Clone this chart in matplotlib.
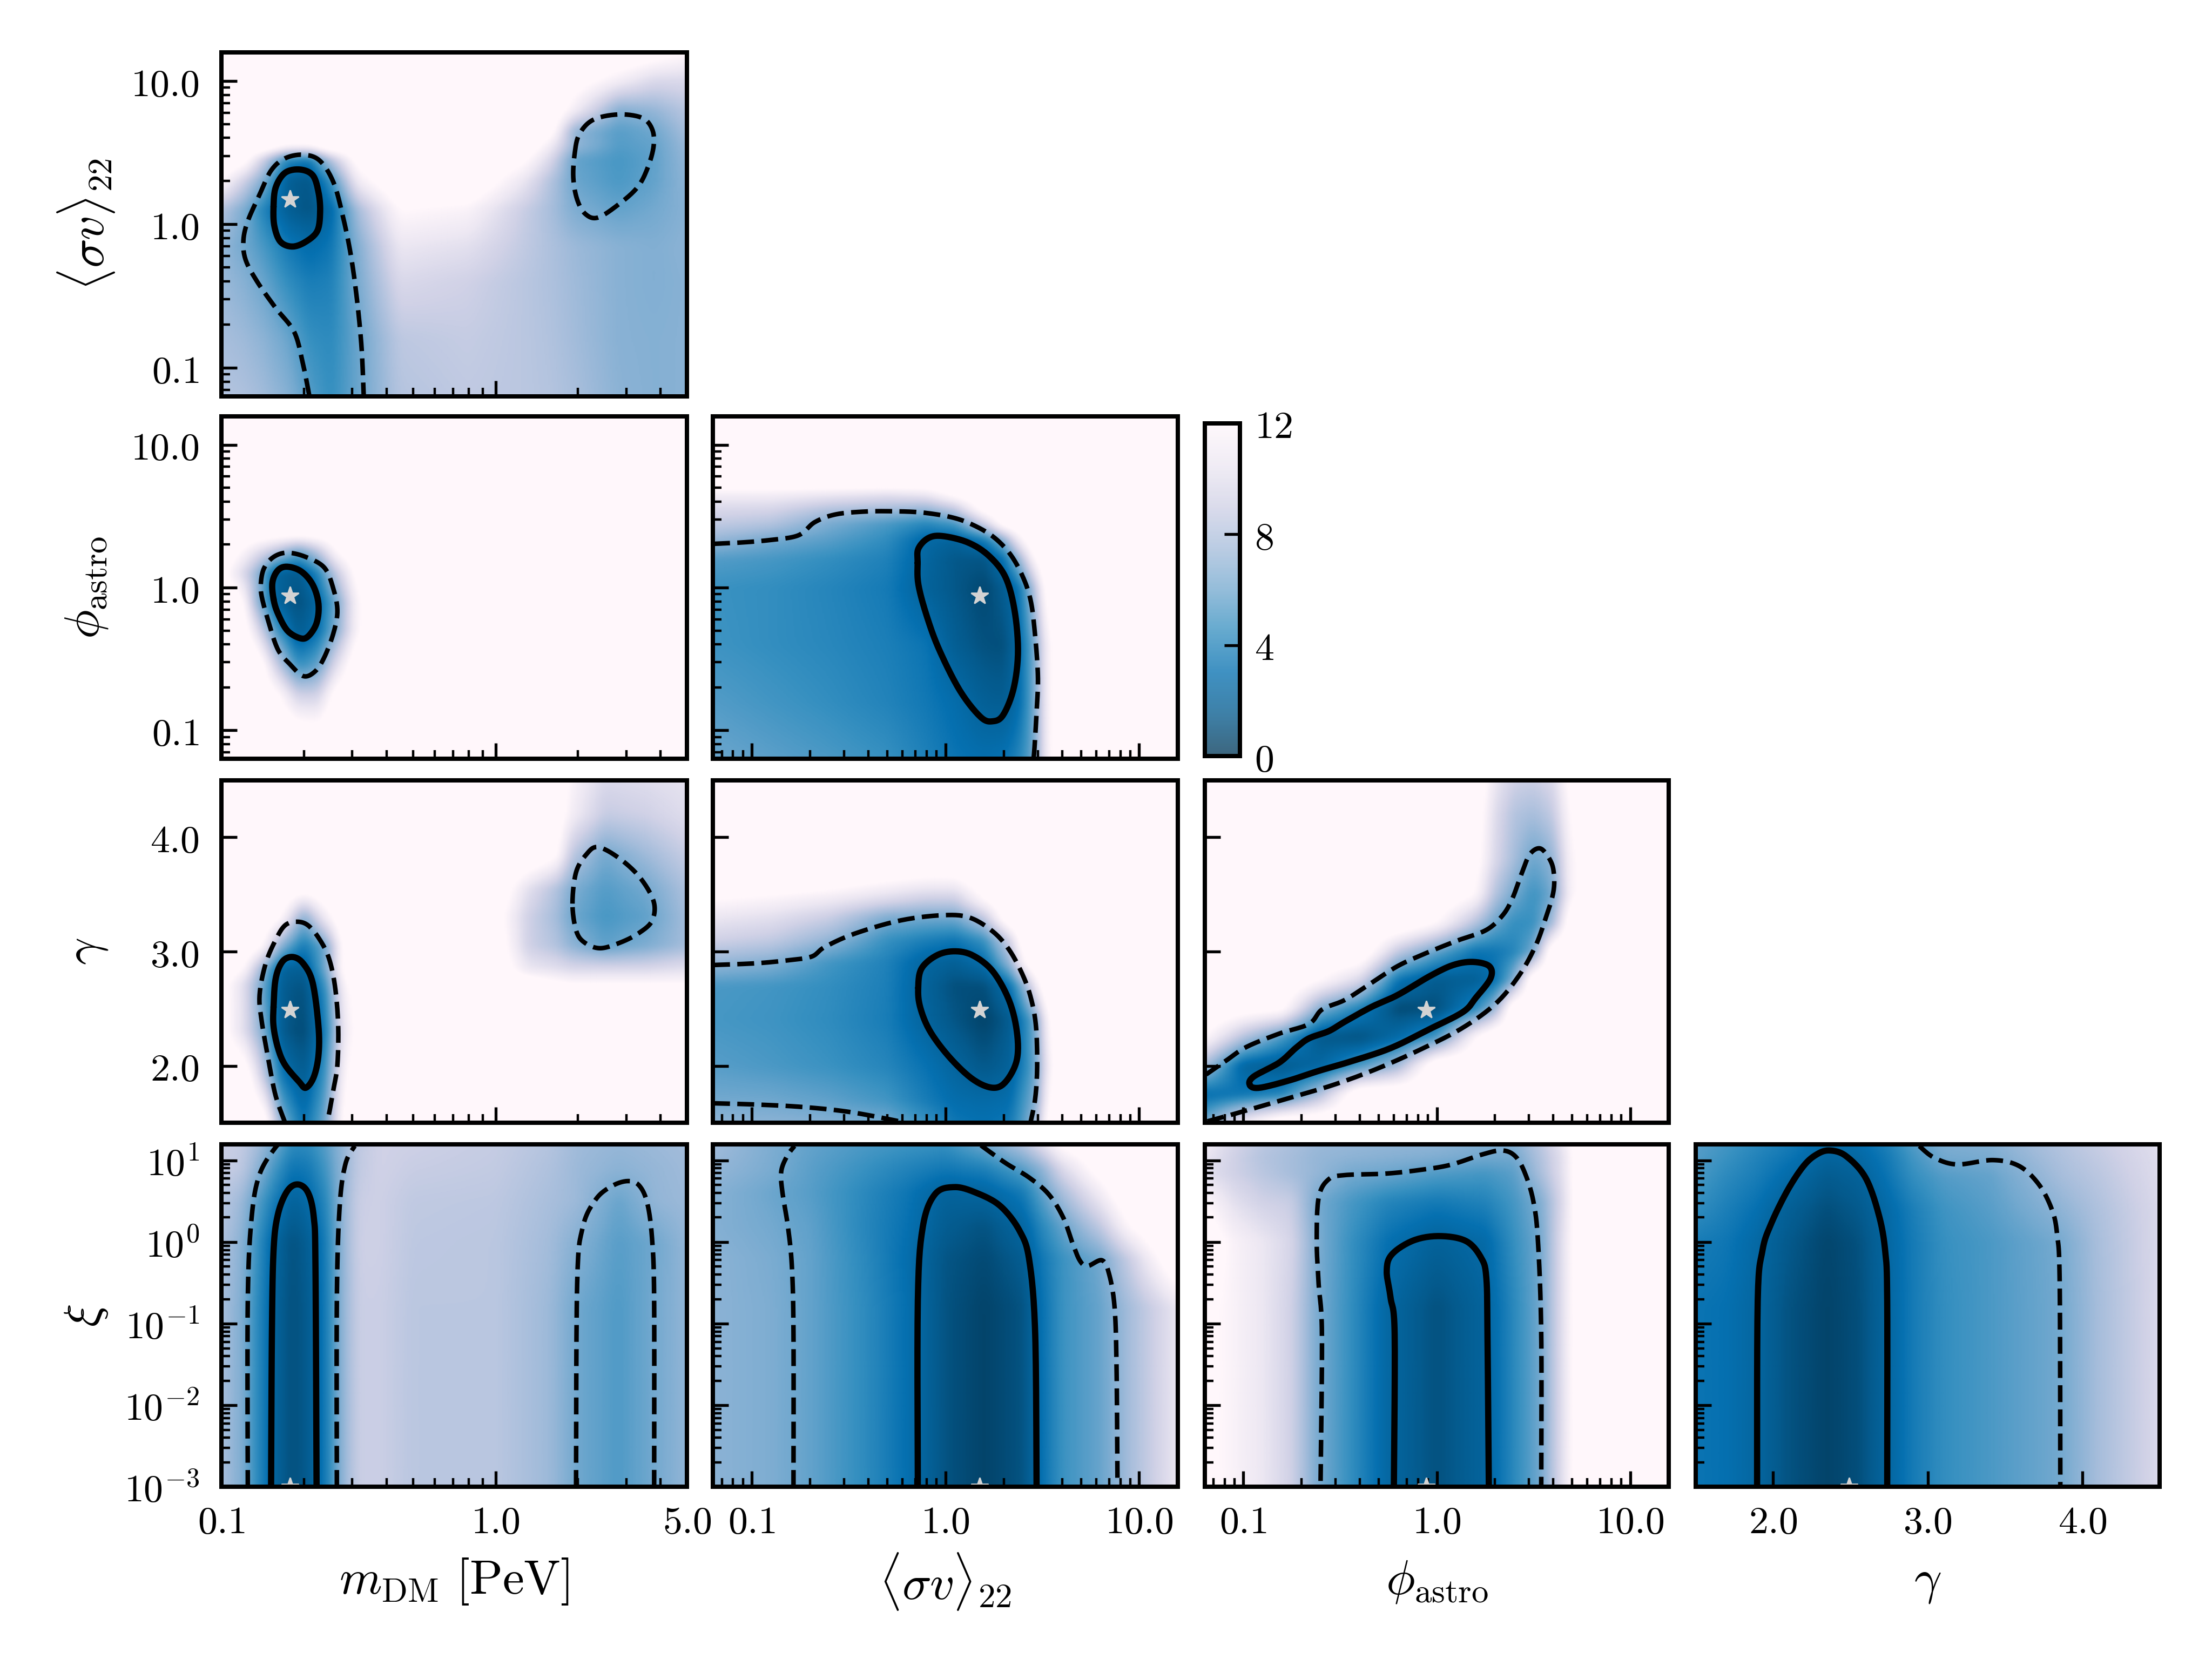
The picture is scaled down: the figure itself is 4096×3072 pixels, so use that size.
import numpy as np
import matplotlib
matplotlib.use("Agg")
import matplotlib.pyplot as plt
from matplotlib.cm import ScalarMappable
from matplotlib.colors import Normalize
from matplotlib.ticker import FixedLocator, FixedFormatter, LogLocator, NullFormatter, NullLocator

plt.rcParams['mathtext.fontset'] = 'cm'
plt.rcParams['font.family'] = ['DejaVu Serif']

BG = 14
# ---------- mDM vs sigma-v (log10 values) ----------
A_x = [-1,-.92,-.85,-.76,-.68,-.6,-.5,-.35,-.1,.1,.2,.29,.45,.58,.70]
A_y = [-1.2,-.8,-.4,-.15,.1,.3,.45,.55,.65,.8,1,1.2]
A_z = [[8,7.8,7.4,6.6,5.3,4.4,5.8,8,8.4,8.2,8,7.6,6.7,6.5,6.6],
 [7.6,7.3,6.8,5.8,4.5,4.2,5.8,8.3,8.6,8.2,7.9,7.4,6.6,6.5,6.6],
 [7.2,6.6,5.8,4.4,3.6,3.8,6.2,9.5,9,8.2,7.8,7.3,6.6,6.4,6.6],
 [7,6,5,3.5,2.7,3.3,6.5,10.5,10,8.5,7.8,7.2,6.6,6.4,6.7],
 [8,6.3,4,1.9,1.2,2.6,7.6,12,11.5,8.8,7.6,6.3,5.6,6,6.6],
 [12,9,6.4,1.9,1.3,4.5,11,14,14,10.5,8,5.8,5,5.6,6.8],
 [14,13,9,4,3.4,8,13,14,14,12.5,9.5,5.6,4.9,5.5,7],
 [14,14,14,12,12,14,14,14,14,14,11,7,5.2,5.6,7.2],
 [BG]*10+[13,6.8,5.3,5.9,7.6],
 [BG]*11+[11,6.5,7,8.2],
 [BG]*11+[13,11,9.5,9.5],
 [BG]*11+[14,14,13,12]]
A_s = ([-.810,-.802,-.768,-.714,-.667,-.646,-.640,-.650,-.692,-.741,-.785,-.807,-.810],
       [.123,.258,.359,.382,.342,.224,.089,-.045,-.121,-.155,-.121,-.012,.123])
A_d1 = ([-.680,-.701,-.734,-.802,-.870,-.912,-.920,-.904,-.861,-.819,-.768,-.701,-.641,-.591,-.557,-.528,-.506,-.489,-.481],
        [-1.19,-.988,-.753,-.584,-.399,-.247,-.113,.022,.207,.375,.460,.485,.443,.291,.056,-.214,-.517,-.854,-1.19])
A_d2 = ([.289,.306,.357,.450,.535,.572,.577,.555,.518,.450,.374,.328,.298,.284,.289],
        [.493,.628,.729,.766,.742,.662,.544,.392,.258,.140,.047,.072,.173,.325,.493])

# ---------- mDM vs phi ----------
B1_x = [-1,-.93,-.87,-.8,-.72,-.65,-.58,-.5,-.4,.7]
B1_y = [-1.2,-.95,-.75,-.55,-.3,-.1,.1,.25,.4,1.2]
B1_z = [[BG]*10,
 [14,14,14,14,12.3,12,14,14,14,14],
 [14,14,14,12.5,9,9,13,14,14,14],
 [14,14,14,9,4.6,5.6,10,14,14,14],
 [14,14,10,5,1.6,2.9,6.5,12,14,14],
 [14,13,7,2.3,1,2.4,6,12,14,14],
 [13,10,7,2.1,1.5,3.8,8.5,13,14,14],
 [14,12,10,8,5.6,8,12,14,14,14],
 [BG]*10,
 [BG]*10]
B1_s = ([-.810,-.814,-.794,-.760,-.709,-.667,-.646,-.653,-.684,-.714,-.760,-.794,-.810],
        [-.081,.037,.121,.146,.113,.020,-.114,-.249,-.342,-.354,-.300,-.182,-.081])
B1_d = ([-.856,-.844,-.810,-.760,-.692,-.624,-.591,-.577,-.591,-.624,-.658,-.701,-.751,-.794,-.827,-.853,-.856],
        [.037,.138,.214,.244,.214,.138,-.013,-.165,-.316,-.485,-.586,-.620,-.535,-.434,-.249,-.064,.037])

# ---------- sigma-v vs phi ----------
B2_x = [-1.2,-.9,-.6,-.3,-.1,.05,.2,.3,.38,.46,.52,.6,1.2]
B2_y = [-1.2,-.8,-.4,0,.2,.33,.45,.55,.65,.72,1.2]
B2_z = [[5.8,5.4,5,4.5,3.8,3.2,2.9,3.1,4,6,11,14,14],
 [5.2,4.8,4.4,3.9,3.4,2.8,1.9,1.7,2.8,6,11,14,14],
 [4.7,4.4,4.1,3.7,3.2,1.8,1.1,1,2.7,6,11,14,14],
 [4.6,4.4,4,3.5,2.1,1.4,.7,1.7,3.2,8,13,14,14],
 [5.2,4.9,4.4,3.8,2.3,1.4,1.3,3,7,12,14,14,14],
 [7,6,5.3,4.3,2.5,2.1,3.4,6.4,11,14,14,14,14],
 [8.5,8,6.2,5,4.1,5,9,13,14,14,14,14,14],
 [9.5,9.3,8,7.5,7,8.5,13,14,14,14,14,14,14],
 [11,11,10.5,10,10.5,12.5]+[BG]*7,
 [13,13,13,13,13,14]+[BG]*7,
 [BG]*13]
B2_s = ([-.144,-.140,-.087,-.012,.117,.224,.310,.357,.374,.352,.299,.245,.181,.074,-.033,-.097,-.140,-.144],
        [.172,.273,.348,.360,.315,.222,.071,-.165,-.451,-.704,-.889,-.936,-.906,-.721,-.434,-.199,.020,.172])
B2_d = ([-1.2,-1.061,-.911,-.761,-.675,-.568,-.418,-.269,-.119,.031,.138,.245,.331,.395,.438,.460,.477,.470,.460,.455],
        [.306,.315,.332,.365,.458,.512,.532,.534,.525,.492,.441,.357,.239,.088,-.081,-.300,-.620,-.872,-1.108,-1.192])

# ---------- mDM vs gamma ----------
C1_x = [-1,-.92,-.85,-.78,-.7,-.62,-.55,-.45,-.02,.03,.12,.22,.28,.4,.55,.7]
C1_y = [1.5,1.9,2.3,2.62,2.72,2.85,3.05,3.3,3.55,3.85,4.2,4.5]
C1_z = [[14,14,14,6.5,3,6,13,14]+[BG]*8,
 [14,14,9,3.4,1.7,4.8,12,14]+[BG]*8,
 [13,10,6.5,1.6,.8,3.6,11,14]+[BG]*8,
 [13,10,5.8,1.7,1,4.2,11.5,14]+[BG]*8,
 [13,10,6,1.8,1.2,4.8,12,14,14,14,13.5,12.5,12,12,12,12],
 [14,12,7,2.2,1.8,6,13,14,14,13,10.5,10,9.5,9.5,9.5,10],
 [14,14,12,6.5,3.4,6,13,14,14,12.5,9,8,6.8,5.5,6.3,7.5],
 [14,14,14,12,6.3,11,14,14,14,12,9,7.5,5.9,4.9,5.5,7.5],
 [14,14,14,14,13,14,14,14,14,13,10,8,6.3,5.2,6,7.8],
 [BG]*8+[14,14,14,12.5,8.3,6,7.3,8.7],
 [BG]*8+[14,14,14,13.5,11,8.6,9,9.8],
 [BG]*8+[14,14,14,14,11.5,9.5,9.8,10.2]]
C1_s = ([-.810,-.802,-.777,-.739,-.701,-.667,-.646,-.646,-.663,-.692,-.717,-.768,-.794,-.810,-.810],
        [2.514,2.766,2.914,2.952,2.893,2.724,2.345,2.093,1.903,1.808,1.861,2.008,2.156,2.345,2.514])
C1_d1 = ([-.768,-.802,-.827,-.853,-.861,-.839,-.802,-.768,-.726,-.684,-.641,-.607,-.585,-.574,-.577,-.591,-.607,-.616],
         [1.503,1.735,2.029,2.387,2.619,2.893,3.103,3.229,3.261,3.229,3.103,2.935,2.682,2.345,2.008,1.798,1.587,1.503])
C1_d2 = ([.281,.294,.332,.374,.450,.526,.577,.572,.526,.459,.382,.323,.294,.281],
         [3.419,3.693,3.851,3.914,3.819,3.651,3.440,3.272,3.166,3.082,3.029,3.082,3.187,3.419])

# ---------- sigma-v vs gamma ----------
C2_x = [-1.2,-.9,-.6,-.3,-.1,.05,.2,.33,.41,.47,.53,.6,1.2]
C2_y = [1.5,1.7,2,2.4,2.7,2.9,3.1,3.3,3.45,3.65,3.85,4.5]
C2_z = [[6.8,6.7,6.5,6,4.6,3.3,3,3.4,5.5,7.5,13,14,14],
 [6,5.9,5.5,4.8,3.6,2.8,2.6,2.8,5,6.5,12,14,14],
 [5.3,5,4.6,4,3.1,2.2,1.4,2,4,6,11,14,14],
 [4.9,4.7,4.3,3.6,2.2,1.3,.5,1.6,4,6.3,12,14,14],
 [5,4.8,4.4,3.7,2.1,1,1,3,7,11,14,14,14],
 [7,6.4,4.8,3.8,2.3,1.9,2.8,6.8,12,14,14,14,14],
 [9,8.5,6.9,4.5,3.7,3.3,4.6,9,14,14,14,14,14],
 [10.5,10,8.8,6.3,6,6,8.5,14,14,14,14,14,14],
 [12,11.5,10.7,9.5,8.7,8.7,12,14,14,14,14,14,14],
 [14,14,13.5,12.5,12,12]+[BG]*7,
 [BG]*13,
 [BG]*13]
C2_s = ([-.141,-.124,-.046,.046,.141,.243,.327,.368,.368,.311,.243,.141,.022,-.080,-.131,-.141],
        [2.682,2.851,2.966,3.002,2.966,2.829,2.577,2.303,2.051,1.861,1.808,1.882,2.072,2.303,2.514,2.682])
C2_d1 = ([-1.2,-.979,-.810,-.691,-.623,-.470,-.233,-.012,.124,.243,.327,.395,.440,.467,.473,.463,.440],
         [2.882,2.897,2.924,2.956,3.040,3.156,3.272,3.318,3.297,3.177,3.019,2.808,2.598,2.345,1.987,1.714,1.514])
C2_d2 = ([-1.2,-.979,-.742,-.504,-.267,-.216],
         [1.672,1.661,1.640,1.598,1.524,1.499])

# ---------- phi vs gamma ----------
C3_x = [-1.2,-1,-.8,-.6,-.4,-.2,0,.2,.3,.4,.5,.6,.7,1.2]
C3_y = [1.5,1.75,2,2.25,2.5,2.75,3,3.25,3.5,3.8,4.2,4.5]
C3_z = [[6,11]+[BG]*12,
 [2.9,3.3,4,8]+[BG]*10,
 [7.5,2.3,1.6,2.4,5,7.5]+[BG]*8,
 [12,8,5,1.5,1.1,2.7,5,12]+[BG]*6,
 [14,13,12.5,6.3,3.8,.8,1,4.2,7]+[BG]*5,
 [14,14,14,12,9.5,3.2,1.6,1.9,3,6.5,14,14,14,14],
 [14,14,14,14,14,8.5,5.6,3.2,3.3,4,6,14,14,14],
 [14,14,14,14,14,14,12,8,5.8,4.4,4.5,7.5,14,14],
 [BG]*7+[12,8,6,4.6,6,12,14],
 [BG]*7+[13,9.5,7.5,5.7,6.8,12,14],
 [BG]*7+[13.5,9.8,8,7.5,8.5,12.5,14],
 [BG]*7+[14,10.5,9,8.8,9.5,13,14]]
C3_s = ([-.966,-.949,-.814,-.729,-.661,-.559,-.475,-.339,-.203,-.034,.085,.186,.271,.278,.203,.136,-.034,-.237,-.441,-.610,-.763,-.915,-.966],
        [1.829,1.903,2.029,2.156,2.240,2.303,2.387,2.514,2.619,2.787,2.882,2.909,2.872,2.766,2.598,2.472,2.324,2.156,2.040,1.956,1.872,1.808,1.829])
C3_d = ([-1.186,-1.051,-.814,-.542,-.305,-.068,.136,.305,.424,.508,.559,.603,.603,.576,.532,.481,.441,.390,.339,.254,.102,-.068,-.203,-.339,-.475,-.593,-.661,-.814,-.983,-1.085,-1.193],
        [1.514,1.577,1.693,1.829,1.977,2.156,2.335,2.545,2.787,3.040,3.272,3.524,3.714,3.829,3.903,3.851,3.693,3.461,3.314,3.187,3.093,2.977,2.872,2.724,2.577,2.493,2.366,2.282,2.166,2.051,1.924])

# ---------- mDM vs xi ----------
D1_x = [-1,-.93,-.87,-.8,-.74,-.68,-.62,-.56,-.5,-.42,-.3,0,.2,.3,.45,.58,.7]
D1_y = [-3,-.8,0,.5,.9,1.2]
D1_z = [[7.6,6.5,4.3,2,1,1.7,3.5,6.8,8.8,8.8,8.2,8.2,7.2,5.9,5.1,6,6.9],
 [7.6,6.5,4.3,2,1,1.7,3.5,6.8,8.8,8.8,8.2,8.2,7.2,5.9,5.1,6,6.9],
 [7.8,6.8,4.6,2.2,1.1,1.9,3.6,6.8,8.9,8.9,8.3,8.2,7.4,6.5,5.3,5.9,7],
 [8.2,7.3,5.4,3.4,2,2.7,4.1,6.9,8.8,8.9,8.4,8.3,7.6,7.2,5.7,6.9,7.2],
 [8.7,8.4,6.8,4.7,3.2,3.5,4.8,6.8,8.5,9,8.7,8.5,7.8,7.2,6.7,7,7.3],
 [8.8,8.6,7.6,5.8,4.2,4.3,5.3,6.9,8.4,9,8.9,8.6,8,7.3,7,7.2,7.4]]
D1_s = ([-.819,-.816,-.810,-.794,-.760,-.721,-.684,-.663,-.657,-.653],
        [-3,-1.131,-.110,.339,.624,.706,.604,.298,-.314,-3])
D1_d1 = ([-.904,-.904,-.890,-.861,-.802,-.78],[-3,-.722,.298,.829,1.163,1.2])
D1_d2 = ([-.579,-.579,-.569,-.548,-.514],[-3,-.722,.420,.951,1.176])
D1_d3 = ([.294,.298,.318,.366,.425,.484,.526,.555,.572,.579,.579],
         [-3,-.518,.176,.522,.686,.747,.686,.461,.012,-.722,-3])

# ---------- sigma-v vs xi ----------
D2_x = [-1.2,-.9,-.7,-.4,-.2,0,.2,.4,.5,.6,.8,.95,1.1,1.2]
D2_y = [-3,-.8,-.2,.2,.6,.9,1.2]
D2_z = [[6.7,6.3,5.6,4.2,3,1.2,.5,1.2,3.1,4.6,5.7,7.5,9.2,10.5],
 [6.7,6.3,5.6,4.2,3,1.2,.5,1.2,3.1,4.6,5.7,7.5,9.2,10.5],
 [6.7,6.2,5.6,4.1,2.9,1.3,.8,1.7,3.4,4.6,6,8.8,12,14],
 [6.5,6,5.5,4,3.1,1.7,1.2,2.4,4.2,5.6,8.5,12,14,14],
 [6.6,5.8,5.3,4.1,3.3,2.1,2.3,3.5,5.5,7.5,11,14,14,14],
 [7,6.2,5.4,4.5,3.9,3.4,3.8,5.3,6.8,9.5,13,14,14,14],
 [7.4,6.3,5.6,5,4.7,4.5,5.9,8,10,12.5,14,14,14,14]]
D2_s = ([-.143,-.143,-.118,-.055,.045,.158,.283,.383,.433,.463,.470],
        [-3,-.722,.176,.584,.673,.604,.441,.135,-.233,-1.131,-3])
D2_d1 = ([-.785,-.785,-.793,-.813,-.843,-.848,-.818,-.780],
         [-3,-1.131,-.314,.176,.625,.869,1.053,1.176])
D2_d2 = ([.183,.308,.433,.533,.608,.658,.695,.733,.808,.845,.873,.883,.888],
         [1.184,.971,.788,.584,.298,-.029,-.233,-.294,-.224,-.396,-.804,-1.539,-3])

# ---------- phi vs xi ----------
D3_x = [-1.2,-1.05,-.9,-.75,-.62,-.45,-.25,0,.25,.4,.54,.65,.75,1.2]
D3_y = [-3,-.8,0,.5,.85,1.05,1.2]
D3_z = [[12.5,11.5,10.5,9,6.2,4.5,2.4,1.1,2.2,4.2,6,10,14,14],
 [12.5,11.5,10.5,9,6.2,4.5,2.4,1.1,2.2,4.2,6,10,14,14],
 [13.5,11.5,10.5,9.3,6.3,4.6,3,2,2.6,4.5,6,10,14,14],
 [12,10,9,8.7,6.1,5,4,3.5,3.9,4.9,6.4,9.6,14,14],
 [10,9,8.2,7.5,7,6.1,5.8,5.2,4.9,5.4,7.7,10,14,14],
 [10.5,9,8,7.5,7,6.8,6.6,6.4,6,6,8,10,14,14],
 [11,9.3,8.3,7.7,7.2,7,6.9,6.8,6.4,6.5,8.3,10.5,14,14]]
D3_s = ([-.222,-.218,-.239,-.259,-.232,-.120,.015,.151,.229,.256,.262,.269],
        [-3,-1.131,-.682,-.355,-.151,.020,.073,.012,-.192,-.437,-1.131,-3])
D3_d = ([-.601,-.594,-.611,-.621,-.611,-.560,-.476,-.272,-.103,.066,.235,.337,.405,.455,.499,.523,.540,.540],
        [-2.927,-1.131,-.518,.012,.543,.767,.820,.837,.878,.943,1.073,1.122,1.053,.849,.502,.012,-1.131,-3])

# ---------- gamma vs xi ----------
D4_x = [1.5,1.7,1.9,2.1,2.35,2.55,2.74,2.9,3.1,3.4,3.86,4.1,4.5]
D4_y = [-3,-.8,0,.4,.8,1.05,1.2]
D4_z = [[3.2,3,2.3,1.2,.5,1,2.3,3.5,4.4,5,6,7.5,9.5],
 [3.2,3,2.3,1.2,.5,1,2.3,3.5,4.4,5,6,7.5,9.5],
 [3.6,3.3,2.5,1.5,.6,1.1,2.4,3.5,4.5,5,6.1,7.6,9.5],
 [4.4,3.7,3,1.9,1,1.5,2.6,3.7,4.7,5.3,6.8,7.8,9.5],
 [5,4.2,3.6,2.7,1.6,2,3.2,4.4,5.2,5.6,7.5,8.2,9.7],
 [5.2,4.6,3.9,3.3,2.2,2.5,3.5,4.8,6,6.2,7.8,8.5,9.8],
 [5.4,4.8,4.2,3.6,2.6,2.8,3.8,5.2,6.3,6.5,8,8.7,9.9]]
D4_s = ([1.897,1.901,1.931,1.986,2.091,2.197,2.282,2.366,2.472,2.598,2.683,2.725,2.738,2.738],
        [-3,-.722,-.110,.216,.624,.931,1.073,1.122,1.053,.788,.339,-.110,-.722,-3])
D4_d = ([2.945,3.042,3.190,3.422,3.591,3.718,3.802,3.836,3.853,3.857],
        [1.176,1.033,.951,1.004,.931,.706,.400,.094,-.518,-3])

best_m, best_sv, best_phi, best_g, best_xi = 0.178, 1.50, 0.88, 2.49, 1e-3

LIM_M = (0.1, 5.0)
LIM_L = (10**-1.2, 10**1.2)
LIM_G = (1.5, 4.5)
LIM_X = (1e-3, 10**1.2)
TICK_M = ([0.1, 1.0, 5.0], ['$0.1$', '$1.0$', '$5.0$'])
TICK_L = ([0.1, 1.0, 10.0], ['$0.1$', '$1.0$', '$10.0$'])
TICK_G = ([2.0, 3.0, 4.0], ['$2.0$', '$3.0$', '$4.0$'])
TICK_X = ([1e-3, 1e-2, 1e-1, 1, 10], ['$10^{-3}$', '$10^{-2}$', '$10^{-1}$', '$10^{0}$', '$10^{1}$'])
AX_M = (LIM_M, TICK_M, True)
AX_S = (LIM_L, TICK_L, True)
AX_P = (LIM_L, TICK_L, True)
AX_G = (LIM_G, TICK_G, False)
AX_X = (LIM_X, TICK_X, True)

W, H = 1568.0, 1176.0
COLS = [(157, 487), (505.5, 835), (854, 1183), (1202, 1531)]
ROWS = [(37, 281), (295, 538), (553, 796), (811, 1054)]
FS_TICK = 8.1
FS_LAB = 10.1

def smooth(x, y, n=14):
    x = np.asarray(x, float); y = np.asarray(y, float)
    closed = x[0] == x[-1] and y[0] == y[-1] and len(x) > 3
    if closed:
        px = np.r_[x[-2], x, x[1]]; py = np.r_[y[-2], y, y[1]]
    else:
        px = np.r_[x[0], x, x[-1]]; py = np.r_[y[0], y, y[-1]]
    t = np.linspace(0, 1, n, endpoint=False)[:, None]
    def cr(p):
        a, b, c, d = p[:-3, None].T, p[1:-2, None].T, p[2:-1, None].T, p[3:, None].T
        return (0.5*((2*b) + (-a+c)*t + (2*a-5*b+4*c-d)*t**2 + (-a+3*b-3*c+d)*t**3)).T.ravel()
    return np.r_[cr(px), x[-1]], np.r_[cr(py), y[-1]]

def blur(z, s=3.0):
    r = int(3*s)
    k = np.exp(-0.5*(np.arange(-r, r+1)/s)**2); k /= k.sum()
    for ax in (0, 1):
        z = np.moveaxis(z, ax, 1)
        p = np.pad(z, ((0, 0), (r, r)), mode='edge')
        z = np.array([np.convolve(row, k, mode='valid') for row in p])
        z = np.moveaxis(z, 1, ax)
    return z

def panel(r, c, xdef, ydef, xk, yk, zk, solid, dashed, star):
    x0, x1 = COLS[c]; y0, y1 = ROWS[r]
    ax = fig.add_axes([x0/W, 1-y1/H, (x1-x0)/W, (y1-y0)/H])
    (xl, xt, xlog), (yl, yt, ylog) = xdef, ydef
    conv_x = (lambda v: 10**np.asarray(v)) if xlog else (lambda v: np.asarray(v))
    conv_y = (lambda v: 10**np.asarray(v)) if ylog else (lambda v: np.asarray(v))
    fx = np.linspace(xk[0], xk[-1], 320); fy = np.linspace(yk[0], yk[-1], 320)
    zk = np.asarray(zk, float)
    t = np.array([np.interp(fx, xk, row) for row in zk])
    f = np.array([np.interp(fy, yk, t[:, j]) for j in range(t.shape[1])]).T
    f = blur(f, 3.0)
    ax.pcolormesh(conv_x(fx), conv_y(fy), f, cmap=CMAP, vmin=0, vmax=12,
                  shading='gouraud', rasterized=True)
    for s in solid:
        sx, sy = smooth(*s)
        ax.plot(conv_x(sx), conv_y(sy), color='k', lw=1.3, solid_capstyle='round', solid_joinstyle='round')
    for s in dashed:
        sx, sy = smooth(*s)
        ax.plot(conv_x(sx), conv_y(sy), color='k', lw=0.95, ls='--')
    ax.plot([star[0]], [star[1]], marker='*', ms=3.9, color='lightgrey', mec='lightgrey', mew=0.3, ls='none')
    if xlog: ax.set_xscale('log')
    if ylog: ax.set_yscale('log')
    ax.set_xlim(xl); ax.set_ylim(yl)
    ax.set_facecolor('#fff7fb')
    for a, tk, lg in ((ax.xaxis, xt, xlog), (ax.yaxis, yt, ylog)):
        a.set_major_locator(FixedLocator(tk[0]))
        a.set_major_formatter(FixedFormatter(tk[1]))
        if lg:
            a.set_minor_locator(LogLocator(base=10, subs=np.arange(2, 10), numticks=60))
            a.set_minor_formatter(NullFormatter())
        else:
            a.set_minor_locator(NullLocator())
    ax.tick_params(axis='x', which='major', direction='in', length=3.3, width=0.6, labelsize=FS_TICK, pad=3.4)
    ax.tick_params(axis='y', which='major', direction='in', length=3.3, width=0.6, labelsize=FS_TICK, pad=4.6)
    ax.tick_params(which='minor', direction='in', length=1.8, width=0.5)
    ax.tick_params(axis='x', labelbottom=(r == 3))
    ax.tick_params(axis='y', labelleft=(c == 0))
    for sp in ax.spines.values():
        sp.set_linewidth(0.9)
    return ax

CMAP = 'PuBu_r'
fig = plt.figure(figsize=(6.4, 4.8), dpi=640)

panel(0, 0, AX_M, AX_S, A_x, A_y, A_z, [A_s], [A_d1, A_d2], (best_m, best_sv))
panel(1, 0, AX_M, AX_P, B1_x, B1_y, B1_z, [B1_s], [B1_d], (best_m, best_phi))
panel(1, 1, AX_S, AX_P, B2_x, B2_y, B2_z, [B2_s], [B2_d], (best_sv, best_phi))
panel(2, 0, AX_M, AX_G, C1_x, C1_y, C1_z, [C1_s], [C1_d1, C1_d2], (best_m, best_g))
panel(2, 1, AX_S, AX_G, C2_x, C2_y, C2_z, [C2_s], [C2_d1, C2_d2], (best_sv, best_g))
panel(2, 2, AX_P, AX_G, C3_x, C3_y, C3_z, [C3_s], [C3_d], (best_phi, best_g))
panel(3, 0, AX_M, AX_X, D1_x, D1_y, D1_z, [D1_s], [D1_d1, D1_d2, D1_d3], (best_m, best_xi))
panel(3, 1, AX_S, AX_X, D2_x, D2_y, D2_z, [D2_s], [D2_d1, D2_d2], (best_sv, best_xi))
panel(3, 2, AX_P, AX_X, D3_x, D3_y, D3_z, [D3_s], [D3_d], (best_phi, best_xi))
panel(3, 3, AX_G, AX_X, D4_x, D4_y, D4_z, [D4_s], [D4_d], (best_g, best_xi))

YLABS = [r'$\langle\sigma v\rangle_{22}$', r'$\phi_{\mathrm{astro}}$', r'$\gamma$', r'$\xi$']
XLABS = [r'$m_{\mathrm{DM}}\ [\mathrm{PeV}]$', r'$\langle\sigma v\rangle_{22}$', r'$\phi_{\mathrm{astro}}$', r'$\gamma$']
for r, s in enumerate(YLABS):
    fig.text(61/W, 1-(ROWS[r][0]+ROWS[r][1])/2/H, s, rotation=90, ha='center', va='center', fontsize=FS_LAB)
for c, s in enumerate(XLABS):
    fig.text((COLS[c][0]+COLS[c][1])/2/W, 1-1121/H, s, ha='center', va='center', fontsize=FS_LAB)

cax = fig.add_axes([854/W, 1-536/H, 25/W, 236/H])
cb = fig.colorbar(ScalarMappable(Normalize(0, 12), CMAP), cax=cax, alpha=0.77, ticks=[0, 4, 8, 12])
cb.set_ticklabels(['$0$', '$4$', '$8$', '$12$'])
cax.tick_params(which='major', direction='in', length=3.3, width=0.6, labelsize=FS_TICK, pad=3, right=True, left=False)
cb.outline.set_linewidth(0.9)

fig.savefig('out.png', dpi=640)
